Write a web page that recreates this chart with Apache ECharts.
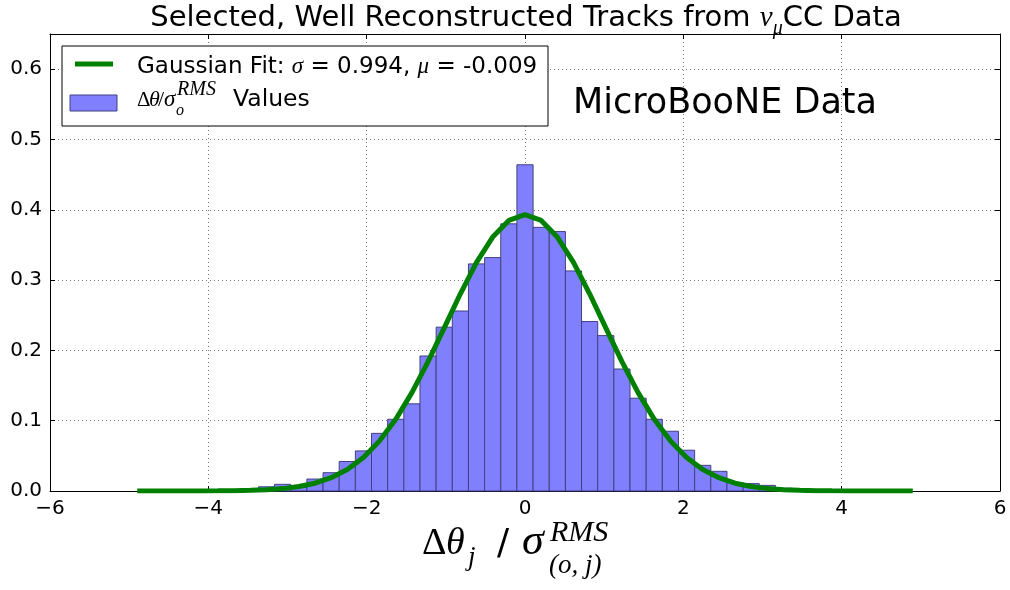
<!DOCTYPE html>
<html>
<head>
<meta charset="utf-8">
<script src="https://cdn.jsdelivr.net/npm/echarts@6/dist/echarts.min.js"></script>
<style>
  html, body { margin: 0; background: #fff; }
  #chart { width: 1010px; height: 590px; }
</style>
</head>
<body>
<div id="chart"></div>
<script>
// histogram: 49 bins over [-5, 5]
const binStart = -5
const binEnd = 5
const binHeights = [
  0, 0, 0, 0, 0, 0.001, 0.001, 0.002, 0.006, 0.0095, 0.005, 0.017,
  0.026, 0.042, 0.057, 0.082, 0.102, 0.124, 0.192, 0.233, 0.256, 0.323,
  0.332, 0.380, 0.464, 0.375, 0.369, 0.313, 0.241, 0.221, 0.1735, 0.132,
  0.102, 0.085, 0.058, 0.0365, 0.028, 0.012, 0.0105, 0.008, 0.004, 0.003,
  0.001, 0.001, 0, 0, 0, 0, 0
]
// gaussian fit read at the bin centres
const fitHeights = [
  0, 0, 0, 0, 0.0001, 0.0002, 0.0004, 0.0009, 0.0018, 0.0034, 0.0063, 0.0111,
  0.0189, 0.0306, 0.0477, 0.0713, 0.1019, 0.1399, 0.1840, 0.2320, 0.2805, 0.3251,
  0.3612, 0.3848, 0.393, 0.3848, 0.3612, 0.3251, 0.2805, 0.2320, 0.1840, 0.1399,
  0.1019, 0.0713, 0.0477, 0.0306, 0.0189, 0.0111, 0.0063, 0.0034, 0.0018, 0.0009,
  0.0004, 0.0002, 0.0001, 0, 0, 0, 0
]
const xMin = -6, xMax = 6, xStep = 2
const yMin = 0, yMax = 0.65, yStep = 0.1

const binWidth = (binEnd - binStart) / binHeights.length
const barData = binHeights.map((h, i) => [binStart + i * binWidth, binStart + (i + 1) * binWidth, h])
const fitData = fitHeights.map((h, i) => [binStart + (i + 0.5) * binWidth, h])

const SANS = 'DejaVu Sans'
const SERIF = 'Liberation Serif'

// measure text to lay out the little math bits by hand
const ctx = document.createElement('canvas').getContext('2d')
function fontOf(p) {
  return (p.it ? 'italic ' : '') + p.fs + 'px "' + p.ff + '"'
}
function widthOf(parts) {
  let w = 0, hold = 0
  parts.forEach(p => {
    ctx.font = fontOf(p)
    const pw = ctx.measureText(p.t).width
    if (p.hold) hold = Math.max(hold, pw)
    else { w += Math.max(pw, hold); hold = 0 }
  })
  return w
}
// parts flow left to right; "at" pins a part to a fixed x
function mathText(parts, x0, baseline, z) {
  let x = x0, hold = 0
  const els = []
  parts.forEach(p => {
    ctx.font = fontOf(p)
    const pw = ctx.measureText(p.t).width
    if (p.at != null) x = p.at
    els.push({
      type: 'text', x: x, y: baseline + (p.dy || 0) - 0.34 * p.fs, z: z || 10, silent: true,
      style: { text: p.t, font: fontOf(p), fill: '#000', align: 'left', verticalAlign: 'middle' }
    })
    if (p.hold) hold = Math.max(hold, pw)
    else { x += Math.max(pw, hold); hold = 0 }
  })
  return els
}

const titleParts = [
  {t: 'Selected, Well Reconstructed Tracks from ', fs: 29, ff: SANS},
  {t: 'ν', fs: 29, ff: SERIF, it: true},
  {t: 'μ', fs: 20, ff: SERIF, it: true, dy: 8},
  {t: 'CC Data', fs: 29, ff: SANS}
]
const legendRow1 = [
  {t: 'Gaussian Fit: ', fs: 23, ff: SANS},
  {t: 'σ', fs: 23, ff: SERIF, it: true},
  {t: ' = 0.994, ', fs: 23, ff: SANS},
  {t: 'μ', fs: 23, ff: SERIF, it: true},
  {t: ' = -0.009', fs: 23, ff: SANS}
]
const legendRow2 = [
  {t: 'Δ', fs: 21, ff: SERIF, at: 137},
  {t: 'θ', fs: 22, ff: SERIF, it: true, at: 149},
  {t: '/', fs: 22, ff: SERIF, at: 158},
  {t: 'σ', fs: 23, ff: SERIF, it: true, at: 164},
  {t: 'RMS', fs: 20, ff: SERIF, it: true, dy: -11, at: 177},
  {t: 'o', fs: 16, ff: SERIF, it: true, dy: 8, at: 176},
  {t: 'Values', fs: 23.5, ff: SANS, at: 233}
]
const xNameParts = [
  {t: 'Δ', fs: 38, ff: SERIF, at: 422},
  {t: 'θ', fs: 38, ff: SERIF, it: true, at: 446},
  {t: 'j', fs: 27, ff: SERIF, it: true, dy: 10, at: 468},
  {t: '/', fs: 36, ff: SANS, at: 497},
  {t: 'σ', fs: 44, ff: SERIF, it: true, at: 522},
  {t: 'RMS', fs: 30, ff: SERIF, it: true, dy: -14, at: 550},
  {t: '(o, j)', fs: 27, ff: SERIF, it: true, dy: 18, at: 549}
]

const gridLine = { show: true, lineStyle: { color: '#777', width: 1, type: [1, 3] } }
const frameLine = { show: true, onZero: false, lineStyle: { color: '#000', width: 1 } }
const tickIn = { show: true, inside: true, length: 5, lineStyle: { color: '#000' } }

const chart = echarts.init(document.getElementById('chart'))
chart.setOption({
  animation: false,
  backgroundColor: '#fff',
  grid: { left: 50, right: 10, top: 34, bottom: 99 },
  xAxis: [
    {
      type: 'value', min: xMin, max: xMax, interval: xStep, position: 'bottom',
      axisLine: frameLine, axisTick: tickIn, splitLine: gridLine,
      axisLabel: {
        color: '#000', fontFamily: SANS, fontSize: 20, margin: 8,
        formatter: v => v < 0 ? '\u2212' + Math.abs(v) : String(v)
      }
    },
    {
      type: 'value', min: xMin, max: xMax, interval: xStep, position: 'top',
      axisLine: frameLine, axisTick: tickIn, splitLine: { show: false }, axisLabel: { show: false }
    }
  ],
  yAxis: [
    {
      type: 'value', min: yMin, max: yMax, interval: yStep, position: 'left',
      axisLine: frameLine, axisTick: tickIn, splitLine: gridLine,
      axisLabel: {
        color: '#000', fontFamily: SANS, fontSize: 20, margin: 8,
        formatter: v => Math.abs(v * 10 - Math.round(v * 10)) < 1e-6 ? v.toFixed(1) : ''
      }
    },
    {
      type: 'value', min: yMin, max: yMax, interval: yStep, position: 'right',
      axisLine: frameLine, axisTick: tickIn, splitLine: { show: false }, axisLabel: { show: false }
    }
  ],
  series: [
    {
      type: 'custom',
      name: 'hist',
      data: barData,
      encode: { x: [0, 1], y: 2 },
      renderItem(params, api) {
        const h = api.value(2)
        if (!h) return null
        const p0 = api.coord([api.value(0), h])
        const p1 = api.coord([api.value(1), 0])
        return {
          type: 'rect',
          shape: { x: p0[0], y: p0[1], width: p1[0] - p0[0], height: p1[1] - p0[1] },
          style: { fill: '#8080ff', stroke: '#404080', lineWidth: 1 }
        }
      },
      z: 2
    },
    {
      type: 'line',
      name: 'fit',
      data: fitData,
      symbol: 'none',
      lineStyle: { color: '#008000', width: 5 },
      z: 3
    }
  ],
  graphic: [
    ...mathText(titleParts, 526 - widthOf(titleParts) / 2, 28),
    {
      type: 'text', x: 573, y: 116 - 0.34 * 35, z: 10, silent: true,
      style: { text: 'MicroBooNE Data', font: '35px "' + SANS + '"', fill: '#000', verticalAlign: 'middle' }
    },
    // legend box
    {
      type: 'rect', z: 20, silent: true,
      shape: { x: 62, y: 46, width: 486, height: 80 },
      style: { fill: '#fff', stroke: '#000', lineWidth: 1 }
    },
    {
      type: 'line', z: 21, silent: true,
      shape: { x1: 75, y1: 64, x2: 113, y2: 64 },
      style: { stroke: '#008000', lineWidth: 5 }
    },
    {
      type: 'rect', z: 21, silent: true,
      shape: { x: 70, y: 95, width: 47, height: 16 },
      style: { fill: '#8080ff', stroke: '#404080', lineWidth: 1 }
    },
    ...mathText(legendRow1, 137, 75, 22),
    ...mathText(legendRow2, 137, 108, 22),
    ...mathText(xNameParts, 422, 557)
  ]
})
</script>
</body>
</html>
